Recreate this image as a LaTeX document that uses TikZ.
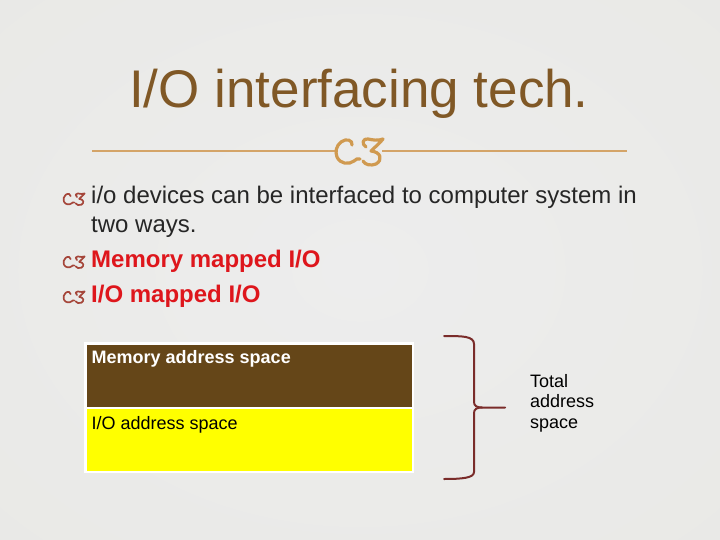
\documentclass[tikz,border=0pt]{standalone}
\usepackage{fontspec}
\setmainfont{Liberation Sans}
\definecolor{bgin}{RGB}{237,237,237}
\definecolor{bgmid}{RGB}{233,233,230}
\definecolor{bgedge}{RGB}{225,224,210}
\definecolor{bgout}{RGB}{216,214,194}
\definecolor{titlec}{RGB}{128,88,38}
\definecolor{rulec}{RGB}{212,164,104}
\definecolor{ornc}{RGB}{208,154,80}
\definecolor{bulc}{RGB}{165,70,58}
\definecolor{txtc}{RGB}{38,38,38}
\definecolor{redc}{RGB}{222,22,28}
\definecolor{memc}{RGB}{101,70,24}
\definecolor{ioc}{RGB}{255,255,0}
\definecolor{bracec}{RGB}{122,44,42}
\pgfdeclareradialshading{slidebg}{\pgfpoint{0bp}{0bp}}{color(0bp)=(bgin); color(38bp)=(bgmid); color(45bp)=(bgedge); color(50bp)=(bgout); color(72bp)=(bgout)}
\tikzset{
  orn/.pic={
    \draw[line cap=round, line join=round, pic actions]
      (17,7) .. controls (18,2) and (11,0) .. (6,4) .. controls (1,8) and (0,14) .. (2,19)
      .. controls (5,26) and (14,27) .. (19,23) .. controls (21,21) and (23,20) .. (25,21)
      (31,9) .. controls (26,6) and (28,0) .. (33,1) .. controls (38,2) and (43,3) .. (48,1)
      .. controls (44,6) and (40,9) .. (36,13) .. controls (46,14) and (48,22) .. (41,26)
      .. controls (36,28) and (30,27) .. (28,23);
  },
  bulletorn/.style={scale=0.45, draw=bulc, line width=1.7pt},
  bodytext/.style={anchor=base west, inner sep=0pt, text=txtc, font=\fontsize{24}{28}\selectfont},
  redtext/.style={anchor=base west, inner sep=0pt, text=redc, font=\fontsize{24}{28}\selectfont\bfseries},
  spacebox/.style={draw=white, line width=2.5pt, minimum width=327.5pt, inner sep=0pt},
  boxlabel/.style={anchor=base west, inner sep=0pt, font=\fontsize{18}{21}\selectfont},
  totaltext/.style={anchor=base west, inner sep=0pt, text=black, font=\fontsize{18}{21}\selectfont},
  bracepath/.style={draw=bracec, line width=2pt, line cap=round, line join=round},
}
\begin{document}
\begin{tikzpicture}[x=1pt,y=-1pt]
\useasboundingbox (0,0) rectangle (720,540);
\fill[shading=slidebg] (0,0) rectangle (720,540);

% title
\node[anchor=base, inner sep=0pt, text=titlec, font=\fontsize{53}{60}\selectfont] (title) at (359,107.5) {I/O interfacing tech.};

% rule with ornament
\coordinate (ruleL) at (92,151);
\coordinate (ruleLend) at (336,151);
\coordinate (ruleRstart) at (382,151);
\coordinate (ruleR) at (627,151);
\draw[rulec, line width=1.6pt] (ruleL) -- (ruleLend);
\draw[rulec, line width=1.6pt] (ruleRstart) -- (ruleR);
\pic[draw=ornc, line width=3.2pt] at (335,138) {orn};

% bullets
\pic[bulletorn] at (63,193) {orn};
\node[bodytext] (b1) at (91,204) {i/o devices can be interfaced to computer system in};
\node[bodytext] (b1b) at (91,233) {two ways.};
\pic[bulletorn] at (63,256) {orn};
\node[redtext] (b2) at (91,267) {Memory mapped I/O};
\pic[bulletorn] at (63,291) {orn};
\node[redtext] (b3) at (91,302) {I/O mapped I/O};

% address space boxes
\node[spacebox, fill=memc, minimum height=64.5pt] (mem) at (249,375.5) {};
\node[spacebox, fill=ioc, minimum height=64pt] (io) at (249,439.75) {};
\node[boxlabel, text=white, font=\fontsize{18}{21}\selectfont\bfseries] (memlbl) at (91.5,363) {Memory address space};
\node[boxlabel, text=black] (iolbl) at (91.5,429) {I/O address space};

% brace
\coordinate (bTop) at (444,336);
\coordinate (bBot) at (444,479);
\coordinate (bJoin) at (482,407.5);
\coordinate (bTip) at (505,407.5);
\draw[bracepath] (bTop) .. controls (462,336) and (474,336) .. (474,344) -- (474,402)
  .. controls (474,406) and (477,407.5) .. (bJoin) -- (bTip);
\draw[bracepath] (bJoin) .. controls (477,407.5) and (474,409) .. (474,413) -- (474,472)
  .. controls (474,478) and (462,479) .. (bBot);

% total address space
\node[totaltext] (t1) at (530,387) {Total};
\node[totaltext] (t2) at (530,407.5) {address};
\node[totaltext] (t3) at (530,428) {space};
\end{tikzpicture}
\end{document}
